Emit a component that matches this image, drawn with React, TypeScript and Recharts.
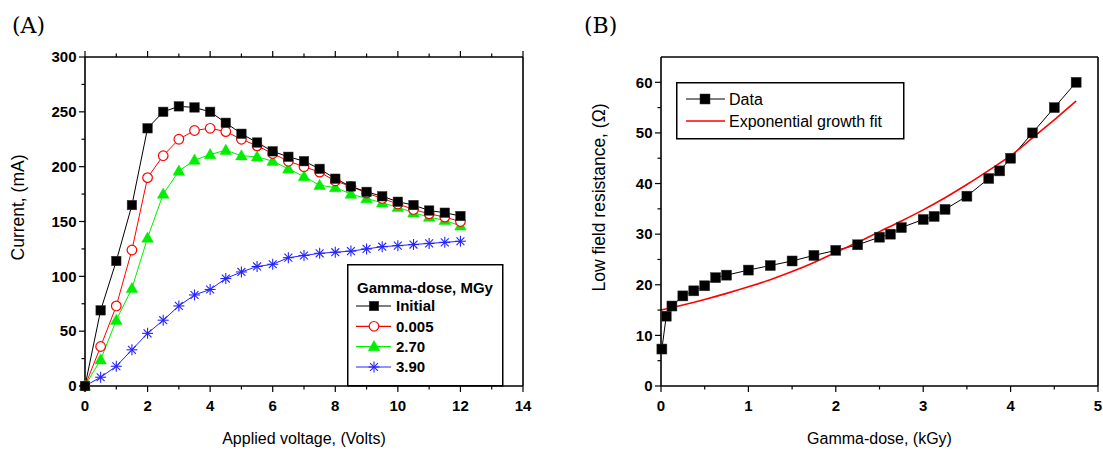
import React from 'react';
import { LineChart, Line, XAxis, YAxis, Legend } from 'recharts';

const SANS = '"Liberation Sans", Arial, Helvetica, sans-serif';
const SERIF = '"DejaVu Serif", "Liberation Serif", serif';

// ---------- Panel A data ----------
const voltage = [0, 0.5, 1, 1.5, 2, 2.5, 3, 3.5, 4, 4.5, 5, 5.5, 6, 6.5, 7, 7.5, 8, 8.5, 9, 9.5, 10, 10.5, 11, 11.5, 12];
const currentInitial = [0, 69, 114, 165, 235, 250, 255, 254, 250, 240, 230, 222, 214, 209, 205, 198, 189, 182, 177, 173, 168, 165, 160, 158, 155];
const current0005 = [0, 36, 73, 124, 190, 210, 225, 233, 235, 232, 225, 219, 212, 205, 200, 195, 187, 182, 176, 171, 166, 161, 157, 154, 150];
const current270 = [0, 24, 60, 89, 135, 175, 196, 206, 211, 215, 210, 209, 205, 198, 191, 183, 181, 175, 171, 167, 163, 158, 154, 151, 146];
const current390 = [0, 8, 18, 33, 48, 60, 73, 83, 88, 98, 104, 109, 111, 117, 119, 121, 122, 123, 125, 127, 128, 129, 130, 131, 132];
const legendTitleA = 'Gamma-dose, MGy';
const seriesNamesA = ['Initial', '0.005', '2.70', '3.90'];

const ticksAX = [0, 1, 2, 3, 4, 5, 6, 7, 8, 9, 10, 11, 12, 13, 14];
const ticksAY = [0, 25, 50, 75, 100, 125, 150, 175, 200, 225, 250, 275, 300];

// ---------- Panel B data ----------
const dose = [0.01, 0.06, 0.125, 0.25, 0.375, 0.5, 0.625, 0.75, 1, 1.25, 1.5, 1.75, 2, 2.25, 2.5, 2.625, 2.75, 3, 3.125, 3.25, 3.5, 3.75, 3.875, 4, 4.25, 4.5, 4.75];
const resistance = [7.3, 13.8, 15.8, 17.8, 18.8, 19.8, 21.4, 21.9, 22.9, 23.8, 24.7, 25.8, 26.8, 27.9, 29.4, 30.0, 31.3, 32.9, 33.5, 34.9, 37.5, 41.0, 42.5, 45.0, 50.0, 55.0, 60.0];
const fitDose = [0, 0.25, 0.5, 0.75, 1, 1.25, 1.5, 1.75, 2, 2.25, 2.5, 2.75, 3, 3.25, 3.5, 3.75, 4, 4.25, 4.5, 4.75];
const fitResistance = [15.0, 16.0, 17.1, 18.3, 19.6, 21.0, 22.6, 24.4, 26.4, 28.4, 30.5, 32.6, 34.8, 37.2, 39.8, 42.6, 45.5, 49.0, 52.6, 56.3];
const seriesNamesB = ['Data', 'Exponential growth fit'];

const ticksBX = [0, 0.5, 1, 1.5, 2, 2.5, 3, 3.5, 4, 4.5, 5];
const ticksBY = [0, 5, 10, 15, 20, 25, 30, 35, 40, 45, 50, 55, 60];

const dataA = voltage.map((v, i) => ({
  v,
  initial: currentInitial[i],
  d0005: current0005[i],
  d270: current270[i],
  d390: current390[i],
}));
const dataB = dose.map((x, i) => ({ x, y: resistance[i] }));
const dataFit = fitDose.map((x, i) => ({ x, y: fitResistance[i] }));

const BLACK = '#000000';
const RED = '#ff0000';
const GREEN = '#00ee00';
const BLUE = '#2424ff';

type Kind = 'square' | 'circle' | 'triangle' | 'star' | 'bigsquare';

function markerShape(kind: Kind, cx: number, cy: number, key?: any) {
  if (kind === 'square' || kind === 'bigsquare') {
    const s = kind === 'square' ? 9.5 : 10;
    return <rect key={key} x={cx - s / 2} y={cy - s / 2} width={s} height={s} fill={BLACK} stroke="#333" strokeWidth={0.5} />;
  }
  if (kind === 'circle') {
    return <circle key={key} cx={cx} cy={cy} r={4.8} fill="#fff" stroke={RED} strokeWidth={1.2} />;
  }
  if (kind === 'triangle') {
    return (
      <polygon
        key={key}
        points={`${cx},${cy - 6} ${cx - 5.8},${cy + 4.2} ${cx + 5.8},${cy + 4.2}`}
        fill={GREEN}
        stroke={GREEN}
        strokeWidth={0.5}
      />
    );
  }
  const r = 5.5;
  const d = r * 0.72;
  return (
    <g key={key} stroke={BLUE} strokeWidth={1.1}>
      <line x1={cx} y1={cy - r} x2={cx} y2={cy + r} />
      <line x1={cx - r} y1={cy} x2={cx + r} y2={cy} />
      <line x1={cx - d} y1={cy - d} x2={cx + d} y2={cy + d} />
      <line x1={cx - d} y1={cy + d} x2={cx + d} y2={cy - d} />
    </g>
  );
}

const dotOf = (kind: Kind) => (props: any) => {
  const { cx, cy, index } = props;
  if (cx == null || cy == null) return <g key={`e${index}`} />;
  return markerShape(kind, cx, cy, `m${index}`);
};

type Side = 'bottom' | 'top' | 'left' | 'right';
const makeTick = (side: Side, isMajor: (v: number) => boolean, showLabel: boolean) => (props: any) => {
  const { x, y, payload } = props;
  const v = Number(payload.value);
  const major = isMajor(v);
  const L = major ? 6 : 3.5;
  const txt = {
    fontFamily: SANS,
    fontSize: 15,
    fontWeight: 700 as const,
    fill: '#000',
  };
  let line: any = null;
  let label: any = null;
  if (side === 'bottom') {
    line = <line x1={x} y1={y} x2={x} y2={y + L} stroke="#000" strokeWidth={1.2} />;
    if (showLabel && major) label = <text x={x} y={y + 24.5} textAnchor="middle" {...txt}>{String(v)}</text>;
  } else if (side === 'top') {
    line = <line x1={x} y1={y} x2={x} y2={y - L} stroke="#000" strokeWidth={1.2} />;
  } else if (side === 'left') {
    line = <line x1={x} y1={y} x2={x - L} y2={y} stroke="#000" strokeWidth={1.2} />;
    if (showLabel && major) label = <text x={x - 8.5} y={y + 5.3} textAnchor="end" {...txt}>{String(v)}</text>;
  } else {
    line = <line x1={x} y1={y} x2={x + L} y2={y} stroke="#000" strokeWidth={1.2} />;
  }
  return (
    <g>
      {line}
      {label}
    </g>
  );
};

const axisLine = { stroke: '#000', strokeWidth: 1.6 };

// vertical axis title, centred at (viewBox.x + dxFromLeft, plot middle - up)
const yTitle = (text: string, dxFromLeft: number, up: number) => (props: any) => {
  const vb = props.viewBox || {};
  const cx = (vb.x || 0) + dxFromLeft;
  const cy = (vb.y || 0) + (vb.height || 0) / 2 - up;
  return (
    <text
      x={cx}
      y={cy}
      transform={`rotate(-90, ${cx}, ${cy})`}
      textAnchor="middle"
      dominantBaseline="central"
      fontFamily={SANS}
      fontSize={17.5}
      fill="#000"
    >
      {text}
    </text>
  );
};

function LegendA() {
  const kinds: Kind[] = ['square', 'circle', 'triangle', 'star'];
  const colors = [BLACK, RED, GREEN, BLUE];
  const rows = [42, 62.3, 82.6, 103];
  return (
    <svg width={157} height={123} style={{ display: 'block' }}>
      <rect x={0.75} y={0.75} width={155} height={121} fill="#fff" stroke="#000" strokeWidth={1.5} />
      <text x={78} y={28.5} textAnchor="middle" fontFamily={SANS} fontSize={15} fontWeight={700} fill="#000">
        {legendTitleA}
      </text>
      {seriesNamesA.map((n, i) => (
        <g key={n}>
          <line x1={9} y1={rows[i]} x2={44} y2={rows[i]} stroke={colors[i]} strokeWidth={1.2} />
          {markerShape(kinds[i], 27, rows[i])}
          <text x={49} y={rows[i] + 5.4} fontFamily={SANS} fontSize={15} fontWeight={700} fill="#000">
            {n}
          </text>
        </g>
      ))}
    </svg>
  );
}

function LegendB() {
  const rows = [17, 39];
  return (
    <svg width={229} height={58} style={{ display: 'block' }}>
      <rect x={0.75} y={0.75} width={227} height={56} fill="#fff" stroke="#000" strokeWidth={1.5} />
      <line x1={10} y1={rows[0]} x2={49} y2={rows[0]} stroke={BLACK} strokeWidth={1.2} />
      {markerShape('bigsquare', 29, rows[0])}
      <text x={53} y={rows[0] + 5.8} fontFamily={SANS} fontSize={16} fill="#000">{seriesNamesB[0]}</text>
      <line x1={10} y1={rows[1]} x2={49} y2={rows[1]} stroke={RED} strokeWidth={1.5} />
      <text x={53} y={rows[1] + 5.8} fontFamily={SANS} fontSize={16} fill="#000">{seriesNamesB[1]}</text>
    </svg>
  );
}

const labelStyle = { fontFamily: SANS, fontSize: 16, fill: '#000' };

function ChartA() {
  return (
    <LineChart width={560} height={452} data={dataA} margin={{ top: 47, right: 27, bottom: 0, left: 0 }}>
      <XAxis
        dataKey="v"
        type="number"
        domain={[0, 14]}
        ticks={ticksAX}
        interval={0}
        tickSize={0}
        tickMargin={0}
        tickLine={false}
        axisLine={axisLine}
        height={66}
        tick={makeTick('bottom', (v) => v % 2 === 0, true)}
        label={{ value: 'Applied voltage, (Volts)', position: 'insideBottom', offset: 8, style: labelStyle }}
      />
      <XAxis
        xAxisId="top"
        orientation="top"
        dataKey="v"
        type="number"
        domain={[0, 14]}
        ticks={ticksAX}
        interval={0}
        tickSize={0}
        tickMargin={0}
        tickLine={false}
        axisLine={axisLine}
        height={10}
        tick={makeTick('top', (v) => v % 2 === 0, false)}
      />
      <YAxis
        type="number"
        domain={[0, 300]}
        ticks={ticksAY}
        interval={0}
        tickSize={0}
        tickMargin={0}
        tickLine={false}
        axisLine={axisLine}
        width={85}
        tick={makeTick('left', (v) => v % 50 === 0, true)}
        label={{ content: yTitle('Current, (mA)', 18, 14) }}
      />
      <YAxis
        yAxisId="right"
        orientation="right"
        type="number"
        domain={[0, 300]}
        ticks={ticksAY}
        interval={0}
        tickSize={0}
        tickMargin={0}
        tickLine={false}
        axisLine={axisLine}
        width={10}
        tick={makeTick('right', (v) => v % 50 === 0, false)}
      />
      <Legend
        layout="vertical"
        align="center"
        verticalAlign="middle"
        wrapperStyle={{ position: 'absolute', left: 347, top: 264, width: 157, height: 123 }}
        content={() => <LegendA />}
      />
      <Line type="linear" dataKey="d390" name={seriesNamesA[3]} stroke={BLUE} strokeWidth={1} dot={dotOf('star')} activeDot={false} isAnimationActive={false} legendType="none" />
      <Line type="linear" dataKey="d270" name={seriesNamesA[2]} stroke={GREEN} strokeWidth={1} dot={dotOf('triangle')} activeDot={false} isAnimationActive={false} legendType="none" />
      <Line type="linear" dataKey="d0005" name={seriesNamesA[1]} stroke={RED} strokeWidth={1} dot={dotOf('circle')} activeDot={false} isAnimationActive={false} legendType="none" />
      <Line type="linear" dataKey="initial" name={seriesNamesA[0]} stroke={BLACK} strokeWidth={1} dot={dotOf('square')} activeDot={false} isAnimationActive={false} legendType="none" />
    </LineChart>
  );
}

function ChartB() {
  return (
    <LineChart width={543} height={452} margin={{ top: 47, right: 0, bottom: 0, left: 0 }}>
      <XAxis
        dataKey="x"
        type="number"
        domain={[0, 5]}
        ticks={ticksBX}
        interval={0}
        tickSize={0}
        tickMargin={0}
        tickLine={false}
        axisLine={axisLine}
        height={66}
        allowDuplicatedCategory={false}
        tick={makeTick('bottom', (v) => Number.isInteger(v), true)}
        label={{ value: 'Gamma-dose, (kGy)', position: 'insideBottom', offset: 8, style: labelStyle }}
      />
      <XAxis
        xAxisId="top"
        orientation="top"
        dataKey="x"
        type="number"
        domain={[0, 5]}
        ticks={ticksBX}
        interval={0}
        tickSize={0}
        tickMargin={0}
        tickLine={false}
        axisLine={axisLine}
        height={10}
        tick={makeTick('top', (v) => Number.isInteger(v), false)}
      />
      <YAxis
        type="number"
        domain={[0, 65]}
        ticks={ticksBY}
        interval={0}
        tickSize={0}
        tickMargin={0}
        tickLine={false}
        axisLine={axisLine}
        width={101}
        tick={makeTick('left', (v) => v % 10 === 0, true)}
        label={{ content: yTitle('Low field resistance, (Ω)', 39, 24) }}
      />
      <YAxis
        yAxisId="right"
        orientation="right"
        type="number"
        domain={[0, 65]}
        ticks={ticksBY}
        interval={0}
        tickSize={0}
        tickMargin={0}
        tickLine={false}
        axisLine={axisLine}
        width={5}
        tick={makeTick('right', (v) => v % 10 === 0, false)}
      />
      <Legend
        layout="vertical"
        align="center"
        verticalAlign="middle"
        wrapperStyle={{ position: 'absolute', left: 116, top: 82, width: 229, height: 58 }}
        content={() => <LegendB />}
      />
      <Line data={dataB} type="linear" dataKey="y" name={seriesNamesB[0]} stroke={BLACK} strokeWidth={1} dot={dotOf('bigsquare')} activeDot={false} isAnimationActive={false} legendType="none" />
      <Line data={dataFit} type="monotone" dataKey="y" name={seriesNamesB[1]} stroke={RED} strokeWidth={1.6} dot={false} activeDot={false} isAnimationActive={false} legendType="none" />
    </LineChart>
  );
}

export default function App() {
  return (
    <div style={{ position: 'absolute', left: 0, top: 0, width: 1103, height: 452, background: '#fff', overflow: 'hidden' }}>
      <div style={{ position: 'absolute', left: 0, top: 0 }}>
        <ChartA />
      </div>
      <div style={{ position: 'absolute', left: 560, top: 0 }}>
        <ChartB />
      </div>
      <svg width={1103} height={452} style={{ position: 'absolute', left: 0, top: 0, pointerEvents: 'none' }}>
        <text x={12} y={33} fontFamily={SERIF} fontSize={22} fill="#000">(A)</text>
        <text x={584} y={33} fontFamily={SERIF} fontSize={22} fill="#000">(B)</text>
      </svg>
    </div>
  );
}
